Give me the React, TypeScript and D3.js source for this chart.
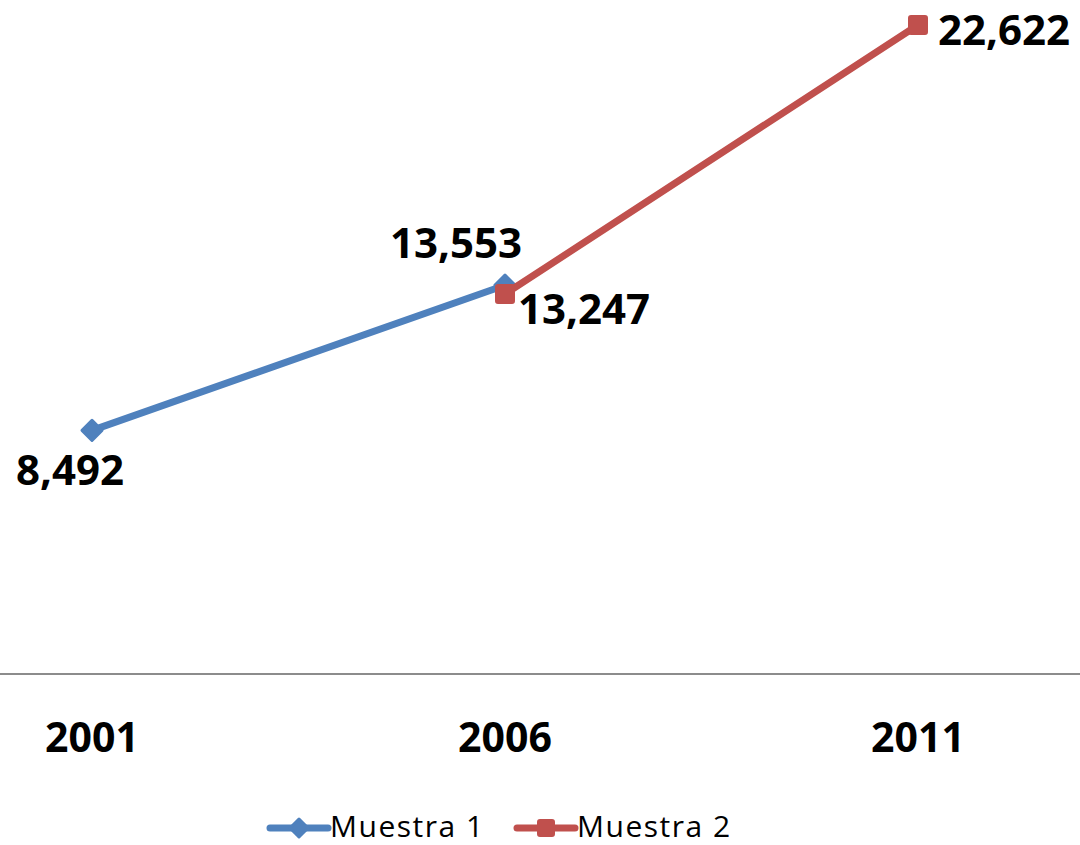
import * as d3 from "d3";

const years = ["2001", "2006", "2011"];
const muestra1 = [8492, 13553, null];
const muestra2 = [null, 13247, 22622];
const seriesNames = ["Muestra 1", "Muestra 2"];
const colors = ["#4F81BD", "#C0504D"];

// label offsets relative to each point (dx, dy, anchor)
const labelPos1 = [
  { dx: -22, dy: 55, anchor: "middle" },
  { dx: -49, dy: -27, anchor: "middle" },
  null,
];
const labelPos2 = [
  null,
  { dx: 13, dy: 30, anchor: "start" },
  { dx: 20, dy: 20, anchor: "start" },
];

const W = 1080;
const H = 845;
const font = "'Open Sans', 'Liberation Sans', sans-serif";

export default function App() {
  const x = d3.scalePoint<string>().domain(years).range([92, 918]);
  const y = d3.scaleLinear().domain([0, 22622]).range([674, 25]);
  const fmt = d3.format(",");

  const line = d3
    .line<number | null>()
    .defined((d) => d != null)
    .x((_, i) => x(years[i]) as number)
    .y((d) => y(d as number));

  const series = [
    { name: seriesNames[0], values: muestra1, color: colors[0], labels: labelPos1, marker: "diamond" },
    { name: seriesNames[1], values: muestra2, color: colors[1], labels: labelPos2, marker: "square" },
  ];

  const marker = (kind: string, cx: number, cy: number, color: string, s: number) =>
    kind === "diamond" ? (
      <path
        d={`M${cx},${cy - s}L${cx + s},${cy}L${cx},${cy + s}L${cx - s},${cy}Z`}
        fill={color}
        stroke={color}
        strokeWidth={3}
        strokeLinejoin="round"
      />
    ) : (
      <rect
        x={cx - s + 1}
        y={cy - s + 1}
        width={2 * s - 2}
        height={2 * s - 2}
        rx={2}
        fill={color}
        stroke={color}
        strokeWidth={2}
      />
    );

  return (
    <svg
      width={W}
      height={H}
      style={{ position: "absolute", left: 0, top: 0, background: "#fff" }}
      fontFamily={font}
    >
      <line x1={0} x2={W} y1={y(0)} y2={y(0)} stroke="#8c8c8c" strokeWidth={2} />
      {years.map((yr) => (
        <text
          key={yr}
          x={x(yr)}
          y={752}
          textAnchor="middle"
          fontSize={41}
          fontWeight="bold"
          fill="#000"
        >
          {yr}
        </text>
      ))}

      {series.map((s) => (
        <g key={s.name}>
          <path
            d={line(s.values) || ""}
            fill="none"
            stroke={s.color}
            strokeWidth={7}
            strokeLinecap="round"
            strokeLinejoin="round"
          />
          {s.values.map((v, i) =>
            v == null ? null : (
              <g key={i}>{marker(s.marker, x(years[i]) as number, y(v), s.color, 10)}</g>
            )
          )}
        </g>
      ))}

      {series.map((s) =>
        s.values.map((v, i) => {
          const p = s.labels[i];
          if (v == null || !p) return null;
          return (
            <text
              key={s.name + i}
              x={(x(years[i]) as number) + p.dx}
              y={y(v) + p.dy}
              textAnchor={p.anchor}
              fontSize={42}
              fontWeight="bold"
              fill="#000"
            >
              {fmt(v)}
            </text>
          );
        })
      )}

      {/* legend */}
      {series.map((s, i) => {
        const lx = 270 + i * 247;
        const ly = 828;
        return (
          <g key={"lg" + s.name}>
            <line
              x1={lx}
              x2={lx + 58}
              y1={ly}
              y2={ly}
              stroke={s.color}
              strokeWidth={7}
              strokeLinecap="round"
            />
            {marker(s.marker, lx + 29, ly, s.color, 9)}
            <text x={lx + 60} y={ly + 9} fontSize={30} letterSpacing={1.5} fill="#000">
              {s.name}
            </text>
          </g>
        );
      })}
    </svg>
  );
}
